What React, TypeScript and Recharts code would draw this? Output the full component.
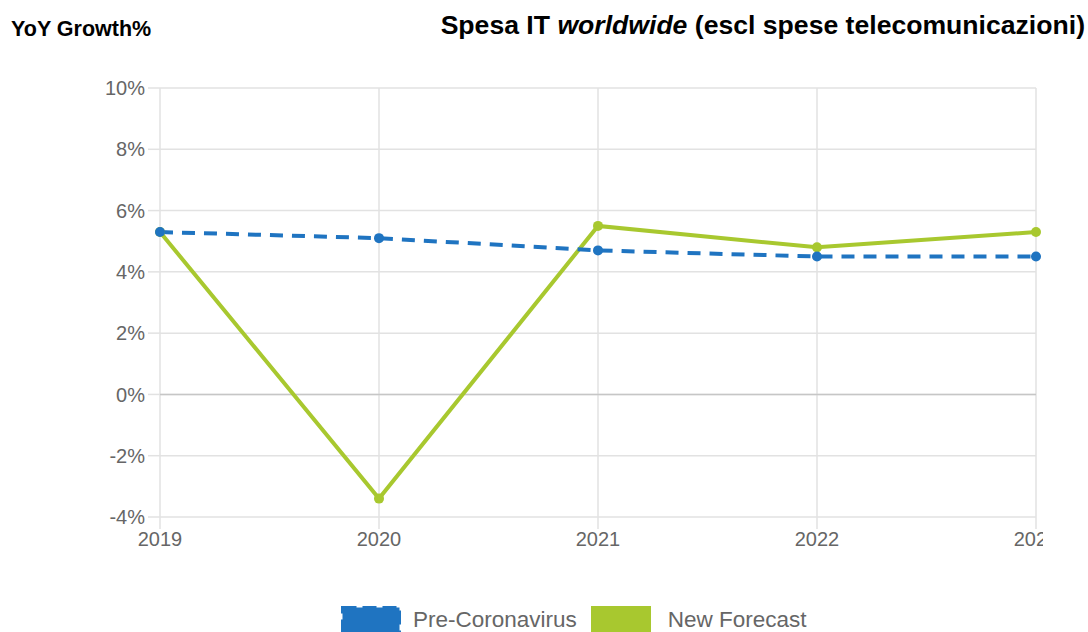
import { LineChart, Line, XAxis, YAxis, CartesianGrid, ReferenceLine } from 'recharts';

const years = ['2019', '2020', '2021', '2022', '2023'];
const preCoronavirus = [5.3, 5.1, 4.7, 4.5, 4.5];
const newForecast = [5.3, -3.4, 5.5, 4.8, 5.3];
const yTicks = [-4, -2, 0, 2, 4, 6, 8, 10];

const BLUE = '#1f74c1';
const GREEN = '#a8c82f';
const GRID = '#e2e2e2';
const TICK_TEXT = '#666';
const FONT = '"Liberation Sans", Arial, sans-serif';

const chartData = years.map((year, i) => ({
  year,
  pre: preCoronavirus[i],
  forecast: newForecast[i],
}));

function LegendBox({ color, dashed }: { color: string; dashed?: boolean }) {
  return (
    <svg width={60} height={26} style={{ display: 'block' }}>
      <rect
        x={1.5}
        y={1.5}
        width={57}
        height={26}
        fill={color}
        stroke={color}
        strokeWidth={3}
        strokeDasharray={dashed ? '14 6' : undefined}
      />
    </svg>
  );
}

export default function App() {
  return (
    <div
      style={{
        position: 'absolute',
        left: 0,
        top: 0,
        width: 1088,
        height: 632,
        background: '#fff',
        overflow: 'hidden',
        fontFamily: FONT,
      }}
    >
      <div style={{ position: 'absolute', left: 11, top: 17, fontSize: 21.5, fontWeight: 'bold', color: '#000', whiteSpace: 'nowrap' }}>
        YoY Growth%
      </div>
      <div style={{ position: 'absolute', right: 3, top: 10, fontSize: 26.6, fontWeight: 'bold', color: '#000', whiteSpace: 'nowrap' }}>
        Spesa IT <i>worldwide</i> (escl spese telecomunicazioni)
      </div>

      <div style={{ position: 'absolute', left: 0, top: 0, width: 1043, height: 600, overflow: 'hidden' }}>
        <LineChart
          width={1100}
          height={600}
          data={chartData}
          margin={{ top: 88, right: 64, left: 0, bottom: 43 }}
        >
          <CartesianGrid stroke={GRID} strokeWidth={1.5} />
          <XAxis
            dataKey="year"
            axisLine={false}
            tickLine={{ stroke: GRID, strokeWidth: 1.5 }}
            tickSize={12}
            tickMargin={3}
            height={40}
            tick={{ fill: TICK_TEXT, fontSize: 20, fontFamily: FONT }}
            interval={0}
          />
          <YAxis
            type="number"
            domain={[-4, 10]}
            ticks={yTicks}
            width={160}
            axisLine={false}
            tickLine={{ stroke: GRID, strokeWidth: 1.5 }}
            tickSize={12}
            tickMargin={3}
            tickFormatter={(v: number) => `${v}%`}
            tick={{ fill: TICK_TEXT, fontSize: 20, fontFamily: FONT }}
          />
          <ReferenceLine y={0} stroke="#c6c6c6" strokeWidth={1.5} />
          <Line
            dataKey="forecast"
            stroke={GREEN}
            strokeWidth={4}
            dot={{ r: 5, fill: GREEN, stroke: GREEN, strokeWidth: 0 }}
            activeDot={false}
            isAnimationActive={false}
          />
          <Line
            dataKey="pre"
            stroke={BLUE}
            strokeWidth={4}
            strokeDasharray="13 9"
            dot={{ r: 5, fill: BLUE, stroke: BLUE, strokeWidth: 0, strokeDasharray: '' }}
            activeDot={false}
            isAnimationActive={false}
          />
        </LineChart>
      </div>

      <div style={{ position: 'absolute', left: 341, top: 606, display: 'flex', alignItems: 'flex-start', color: TICK_TEXT, fontSize: 22.5 }}>
        <LegendBox color={BLUE} dashed />
        <span style={{ marginLeft: 12, lineHeight: '28px' }}>Pre-Coronavirus</span>
        <div style={{ marginLeft: 14 }}>
          <LegendBox color={GREEN} />
        </div>
        <span style={{ marginLeft: 17, lineHeight: '28px' }}>New Forecast</span>
      </div>
    </div>
  );
}
